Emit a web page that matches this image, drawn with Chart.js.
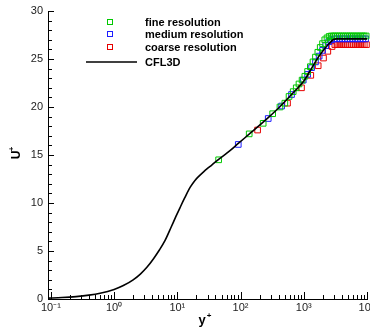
<!DOCTYPE html>
<html>
<head>
<meta charset="utf-8">
<script src="https://cdn.jsdelivr.net/npm/chart.js@4.4.1/dist/chart.umd.min.js"></script>
<style>
  html, body { margin: 0; padding: 0; background: #fff; }
  #wrap { width: 370px; height: 335px; }
</style>
</head>
<body>
<div id="wrap"><canvas id="profile" width="370" height="335"></canvas></div>
<script>
// CFL3D reference profile (U+ vs y+)
const cflYPlus = [0.09, 0.15, 0.25, 0.4, 0.6, 1, 1.4, 2, 2.6, 3.3, 4.2, 5.2, 6.4, 8, 9.5, 11, 13, 16, 19, 22, 26, 30, 35, 45, 68, 92, 150, 274, 400, 640, 1000, 1320, 1700, 2150, 2600, 2900, 3300, 4500, 10000];
const cflU     = [0.09, 0.15, 0.25, 0.4, 0.6, 1.0, 1.4, 2.0, 2.6, 3.3, 4.2, 5.1, 6.1, 7.5, 8.6, 9.5, 10.5, 11.65, 12.35, 12.8, 13.25, 13.6, 13.95, 14.55, 15.45, 16.2, 17.4, 18.9, 19.9, 21.3, 22.7, 24.0, 25.2, 26.1, 26.7, 27.0, 27.1, 27.1, 27.1];

// fine grid
const fineYPlus = [45, 137, 228, 322, 420, 502, 585, 680, 760, 840, 940, 1040, 1150, 1270, 1400, 1530, 1670, 1820, 1980, 2150, 2330, 2520, 2720, 2930, 3150, 3400, 3650, 3950, 4250, 4600, 4950, 5350, 5750, 6200, 6700, 7200, 7800, 8400, 9000, 9700];
const fineU     = [14.5, 17.2, 18.3, 19.3, 20.0, 20.4, 21.1, 21.6, 22.0, 22.4, 22.8, 23.2, 23.7, 24.2, 24.7, 25.2, 25.7, 26.2, 26.6, 27.0, 27.2, 27.35, 27.4, 27.4, 27.4, 27.4, 27.4, 27.4, 27.4, 27.4, 27.4, 27.4, 27.4, 27.4, 27.4, 27.4, 27.4, 27.4, 27.4, 27.4];

// medium grid
const medYPlus = [92, 274, 446, 640, 980, 1150, 1330, 1530, 1750, 1980, 2220, 2480, 2750, 3050, 3350, 3700, 4050, 4450, 4900, 5400, 5900, 6500, 7100, 7800, 8600, 9500];
const medU     = [16.1, 18.8, 20.1, 21.3, 22.8, 23.4, 24.1, 24.7, 25.3, 25.9, 26.4, 26.8, 27.0, 27.1, 27.1, 27.1, 27.1, 27.1, 27.1, 27.1, 27.1, 27.1, 27.1, 27.1, 27.1, 27.1];

// coarse grid
const coarseYPlus = [186, 553, 920, 1290, 1690, 2050, 2400, 2800, 3100, 3350, 3600, 3900, 4200, 4550, 4900, 5300, 5700, 6150, 6650, 7200, 7750, 8400, 9050, 9800];
const coarseU     = [17.6, 20.4, 22.0, 23.3, 24.3, 25.1, 25.8, 26.3, 26.5, 26.5, 26.5, 26.5, 26.5, 26.5, 26.5, 26.5, 26.5, 26.5, 26.5, 26.5, 26.5, 26.5, 26.5, 26.5];

const xTickLabels = { '-1': '10⁻¹', '0': '10⁰', '1': '10¹', '2': '10²', '3': '10³', '4': '10⁴' };
const legendNames = ['fine resolution', 'medium resolution', 'coarse resolution', 'CFL3D'];
const colors = ['#00c800', '#1e1eff', '#e60000', '#000000'];

const pts = (xs, ys) => xs.map((x, i) => ({ x: x, y: ys[i] }));
const isDecade = v => Math.abs(Math.log10(v) - Math.round(Math.log10(v))) < 1e-9;

function markerSet(label, xs, ys, color, order) {
  return {
    label: label,
    data: pts(xs, ys),
    showLine: false,
    pointStyle: 'rect',
    pointRadius: 4,
    pointBorderWidth: 1,
    borderColor: color,
    backgroundColor: 'rgba(0,0,0,0)',
    clip: false,
    order: order
  };
}

// ticks drawn inward, legend and axis titles
const decor = {
  id: 'decor',
  afterDraw(chart) {
    const ctx = chart.ctx;
    const xs = chart.scales.x, ys = chart.scales.y;
    const area = chart.chartArea;
    const axisY = Math.round(area.bottom);
    const axisX = Math.round(area.left);
    ctx.save();
    ctx.fillStyle = '#000';
    xs.ticks.forEach(t => {
      const px = Math.round(xs.getPixelForValue(t.value));
      const len = isDecade(t.value) ? 7 : 4;
      ctx.fillRect(px, axisY - len, 1, len);
    });
    for (let v = 0; v <= 30; v++) {
      const py = Math.round(ys.getPixelForValue(v));
      ctx.fillRect(axisX, py, v % 5 === 0 ? 6 : 4, 1);
    }

    // legend
    const rows = [22, 34, 47, 62];
    ctx.font = 'bold 11px "Liberation Sans", Arial, sans-serif';
    ctx.textBaseline = 'middle';
    ctx.textAlign = 'left';
    rows.forEach((y, i) => {
      if (i < 3) {
        ctx.strokeStyle = colors[i];
        ctx.lineWidth = 1;
        ctx.strokeRect(107.5, y - 2.5, 5, 5);
      } else {
        ctx.strokeStyle = '#000';
        ctx.lineWidth = 1.6;
        ctx.beginPath();
        ctx.moveTo(86, y);
        ctx.lineTo(137, y);
        ctx.stroke();
      }
      ctx.fillStyle = '#000';
      ctx.fillText(legendNames[i], 145, y + 0.5);
    });

    // axis titles
    ctx.fillStyle = '#000';
    ctx.textAlign = 'center';
    ctx.textBaseline = 'alphabetic';
    ctx.font = 'bold 13px "Liberation Sans", Arial, sans-serif';
    ctx.fillText('y', 202, 324);
    ctx.font = 'bold 8px "Liberation Sans", Arial, sans-serif';
    ctx.fillText('+', 209, 318);

    ctx.translate(20, 155);
    ctx.rotate(-Math.PI / 2);
    ctx.font = 'bold 12px "Liberation Sans", Arial, sans-serif';
    ctx.fillText('U', 0, 0);
    ctx.font = 'bold 8px "Liberation Sans", Arial, sans-serif';
    ctx.fillText('+', 6, -6);
    ctx.restore();
  }
};

const tickFont = { family: '"Liberation Sans", Arial, sans-serif', size: 11 };

new Chart(document.getElementById('profile').getContext('2d'), {
  type: 'scatter',
  data: {
    datasets: [
      {
        label: 'CFL3D',
        data: pts(cflYPlus, cflU),
        showLine: true,
        borderColor: '#000',
        borderWidth: 1.6,
        pointRadius: 0,
        cubicInterpolationMode: 'monotone',
        order: 0
      },
      markerSet('coarse resolution', coarseYPlus, coarseU, colors[2], 3),
      markerSet('medium resolution', medYPlus, medU, colors[1], 2),
      markerSet('fine resolution', fineYPlus, fineU, colors[0], 1)
    ]
  },
  options: {
    responsive: false,
    animation: false,
    layout: { autoPadding: false, padding: { top: 11, right: 3, left: 0, bottom: 0 } },
    plugins: {
      legend: { display: false },
      tooltip: { enabled: false }
    },
    scales: {
      x: {
        type: 'logarithmic',
        min: 0.09,
        max: 10000,
        grid: { display: false, drawTicks: false },
        border: { display: true, color: '#000', width: 1 },
        ticks: {
          autoSkip: false,
          maxRotation: 0,
          padding: 2,
          color: '#222',
          font: tickFont,
          callback: function(value) {
            if (!isDecade(value)) return '';
            return xTickLabels[String(Math.round(Math.log10(value)))];
          }
        },
        afterBuildTicks: scale => {
          const t = [];
          for (let e = -1; e <= 3; e++) {
            for (let m = 1; m <= 9; m++) t.push({ value: m * Math.pow(10, e) });
          }
          t.push({ value: 10000 });
          scale.ticks = t;
        },
        afterFit: scale => {
          scale.height = 36;
          scale.paddingLeft = 0;
          scale.paddingRight = 0;
        }
      },
      y: {
        min: 0,
        max: 30,
        grid: { display: false, drawTicks: false },
        border: { display: true, color: '#000', width: 1 },
        ticks: {
          stepSize: 5,
          padding: 5,
          color: '#222',
          font: tickFont
        },
        afterFit: scale => {
          scale.width = 48;
          scale.paddingTop = 0;
          scale.paddingBottom = 0;
        }
      }
    }
  },
  plugins: [decor]
});
</script>
</body>
</html>
